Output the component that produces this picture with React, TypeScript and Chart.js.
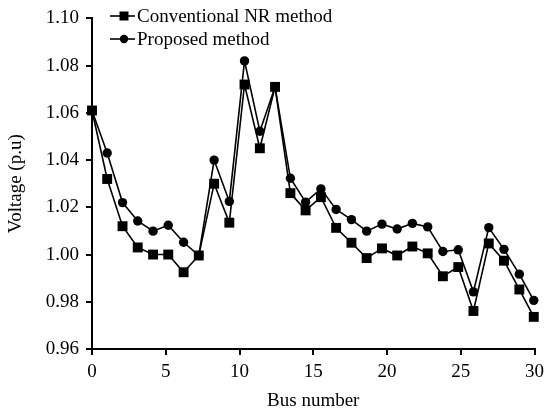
import React, { useEffect, useRef } from "react";
import { Chart, registerables } from "chart.js";

Chart.register(...registerables);

// Bus positions along the axis
const busPositions = [
  0, 1.03, 2.07, 3.1, 4.14, 5.17, 6.21, 7.24, 8.28, 9.31, 10.34, 11.38, 12.41, 13.45, 14.48,
  15.52, 16.55, 17.59, 18.62, 19.66, 20.69, 21.72, 22.76, 23.79, 24.83, 25.86, 26.9, 27.93,
  28.97, 29.95,
];

const conventionalNR = [
  1.061, 1.032, 1.012, 1.003, 1.0, 1.0, 0.9925, 0.9996, 1.03, 1.0135, 1.072, 1.045, 1.071,
  1.026, 1.0187, 1.0243, 1.0113, 1.005, 0.9985, 1.0026, 0.9996, 1.0034, 1.0005, 0.9908,
  0.9947, 0.9761, 1.0047, 0.9974, 0.9852, 0.9736,
];

const proposed = [
  1.061, 1.043, 1.022, 1.0142, 1.0099, 1.0124, 1.0052, 0.9996, 1.04, 1.0225, 1.082, 1.0522,
  1.071, 1.0323, 1.0222, 1.0278, 1.0191, 1.0148, 1.0099, 1.0129, 1.0108, 1.0132, 1.0117,
  1.0013, 1.002, 0.9842, 1.0114, 1.0022, 0.9917, 0.9806,
];

const seriesNames = ["Conventional NR method", "Proposed method"];
const xTitle = "Bus number";
const yTitle = "Voltage (p.u)";

const FONT = "'Liberation Serif', 'Times New Roman', serif";

const legendPlugin = {
  id: "lineLegend",
  afterDraw(chart: any) {
    const ctx = chart.ctx as CanvasRenderingContext2D;
    const rows = [
      { y: 16, style: "rect", label: seriesNames[0] },
      { y: 39, style: "circle", label: seriesNames[1] },
    ];
    ctx.save();
    ctx.strokeStyle = "#000";
    ctx.fillStyle = "#000";
    ctx.lineWidth = 1.6;
    for (const r of rows) {
      ctx.beginPath();
      ctx.moveTo(110, r.y);
      ctx.lineTo(135, r.y);
      ctx.stroke();
      if (r.style === "rect") {
        ctx.fillRect(119.5, r.y - 4.5, 9, 9);
      } else {
        ctx.beginPath();
        ctx.arc(124, r.y, 4.2, 0, Math.PI * 2);
        ctx.fill();
      }
      ctx.font = `19px ${FONT}`;
      ctx.textBaseline = "middle";
      ctx.textAlign = "left";
      ctx.fillText(r.label, 137, r.y + 1);
    }
    ctx.restore();
  },
};

export default function App() {
  const ref = useRef<HTMLCanvasElement | null>(null);

  useEffect(() => {
    document.body.style.margin = "0";
    if (!ref.current) return;
    Chart.defaults.font.family = FONT;
    Chart.defaults.font.size = 19;
    Chart.defaults.color = "#000";

    const chart = new Chart(ref.current, {
      type: "line",
      data: {
        datasets: [
          {
            label: seriesNames[0],
            data: busPositions.map((x, i) => ({ x, y: conventionalNR[i] })),
            borderColor: "#000",
            backgroundColor: "#000",
            borderWidth: 1.6,
            pointStyle: "rect",
            pointRadius: 7,
            pointBorderWidth: 0,
            tension: 0,
            clip: false,
          },
          {
            label: seriesNames[1],
            data: busPositions.map((x, i) => ({ x, y: proposed[i] })),
            borderColor: "#000",
            backgroundColor: "#000",
            borderWidth: 1.6,
            pointStyle: "circle",
            pointRadius: 4.7,
            pointBorderWidth: 0,
            tension: 0,
            clip: false,
          },
        ],
      },
      options: {
        responsive: false,
        animation: false,
        layout: { padding: { top: 15, right: 12, left: 0, bottom: 0 } },
        plugins: {
          legend: { display: false },
          tooltip: { enabled: false },
        },
        scales: {
          x: {
            type: "linear",
            min: 0,
            max: 30,
            ticks: { stepSize: 5, padding: 6, font: { size: 19 } },
            grid: {
              drawOnChartArea: false,
              drawTicks: true,
              tickLength: 6,
              color: "#000",
              lineWidth: 2,
            },
            border: { display: true, color: "#000", width: 2 },
            title: {
              display: true,
              text: xTitle,
              font: { size: 19 },
              padding: { top: 0, bottom: 4 },
            },
            afterFit(scale: any) {
              scale.height = 67;
            },
          },
          y: {
            type: "linear",
            min: 0.96,
            max: 1.1,
            ticks: {
              stepSize: 0.02,
              padding: 7,
              font: { size: 19 },
              callback: (v: any) => Number(v).toFixed(2),
            },
            grid: {
              drawOnChartArea: false,
              drawTicks: true,
              tickLength: 6,
              color: "#000",
              lineWidth: 2,
            },
            border: { display: true, color: "#000", width: 2 },
            title: {
              display: true,
              text: yTitle,
              font: { size: 19 },
              padding: { top: 5, bottom: 0 },
            },
            afterFit(scale: any) {
              scale.width = 92;
            },
          },
        },
      },
      plugins: [legendPlugin],
    });
    return () => chart.destroy();
  }, []);

  return (
    <div style={{ position: "absolute", left: 0, top: 0, width: 550, height: 416 }}>
      <canvas ref={ref} width={550} height={416} />
    </div>
  );
}
